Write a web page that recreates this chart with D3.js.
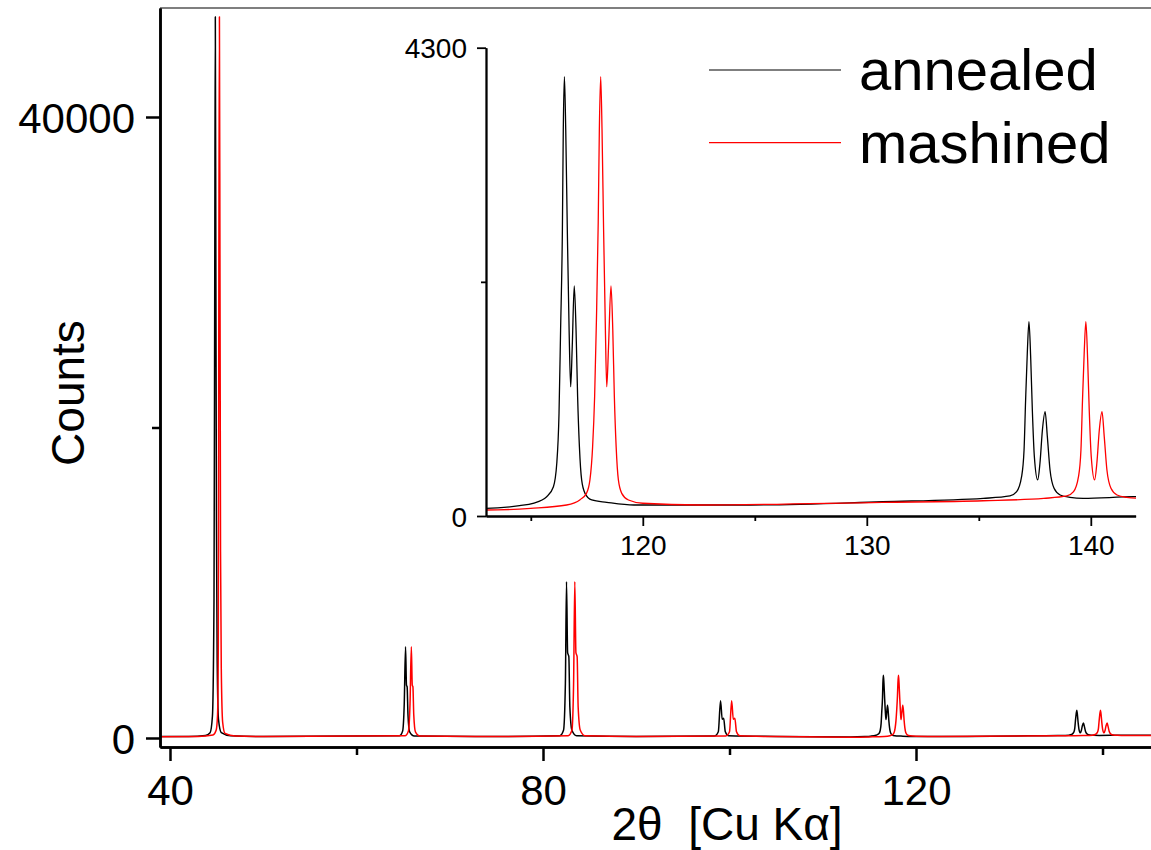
<!DOCTYPE html>
<html>
<head>
<meta charset="utf-8">
<script src="https://cdn.jsdelivr.net/npm/d3@7"></script>
<style>
  html, body { margin: 0; padding: 0; background: #fff; }
  svg { display: block; }
  text { font-family: "Liberation Sans", Arial, sans-serif; fill: #000; }
</style>
</head>
<body>
<svg id="chart" width="1151" height="850"></svg>
<script>
// ---------------- DATA ----------------
const seriesNames = ["annealed", "mashined"];
const seriesColors = ["#000000", "#ff0000"];

// [2θ (deg), counts]
const annealed = [
  [38.9, 90], [42, 100], [43.8, 160], [44.3, 340], [44.55, 1400], [44.72, 9000], [44.8, 30000],
  [44.86, 46450], [44.92, 30000], [44.98, 14000], [45.06, 5000], [45.2, 1200], [45.5, 350],
  [46.5, 150], [50, 100],
  [64.6, 140], [64.95, 450], [65.12, 2200], [65.26, 5881], [65.36, 3400], [65.43, 3300],
  [65.52, 1500], [65.7, 400], [66.2, 130], [75, 100],
  [81.8, 150], [82.2, 500], [82.4, 3500], [82.52, 10070], [82.64, 5500], [82.77, 5238],
  [82.88, 2000], [83.1, 500], [83.6, 150], [90, 100],
  [98.4, 130], [98.8, 400], [99.04, 2403], [99.22, 1200], [99.37, 1267], [99.55, 400],
  [99.9, 140], [105, 100],
  [113, 70], [114.5, 95], [115.1, 117], [115.71, 177], [116.01, 269], [116.16, 484],
  [116.26, 943], [116.33, 1708], [116.41, 2626], [116.45, 3544], [116.5, 4034], [116.56, 3544],
  [116.63, 2626], [116.71, 1708], [116.78, 1187], [116.85, 1555], [116.94, 2112], [117.02, 1708],
  [117.09, 1096], [117.17, 637], [117.27, 331], [117.42, 208], [117.72, 147], [118.39, 126],
  [119.6, 101], [122.5, 101], [124.8, 101], [130.7, 131], [135.2, 162], [136.39, 184],
  [136.69, 223], [136.91, 361], [137.02, 606], [137.09, 1065], [137.17, 1524], [137.24, 1784],
  [137.32, 1432], [137.39, 973], [137.48, 545], [137.63, 331], [137.73, 484], [137.84, 790],
  [137.96, 958], [138.06, 729], [138.18, 422], [138.36, 254], [138.63, 193], [139.07, 171],
  [139.66, 162], [141.9, 177], [146, 180]
];

const mashined = [
  [38.9, 80], [43, 100], [44.6, 200], [44.95, 500], [45.1, 1500], [45.18, 6000], [45.24, 30000],
  [45.3, 46450], [45.36, 30000], [45.42, 12000], [45.5, 4500], [45.65, 1000], [45.9, 300],
  [47, 130], [50, 100],
  [65.2, 140], [65.57, 450], [65.74, 2200], [65.88, 5881], [65.98, 3400], [66.05, 3300],
  [66.14, 1500], [66.32, 400], [66.8, 130], [75, 100],
  [82.7, 150], [83.1, 500], [83.28, 3500], [83.41, 10070], [83.53, 5500], [83.66, 5238],
  [83.77, 2000], [84.0, 500], [84.5, 150], [90, 100],
  [99.6, 130], [100.0, 400], [100.23, 2403], [100.41, 1200], [100.57, 1267], [100.75, 400],
  [101.1, 140], [105, 90],
  [113, 55], [115.0, 70], [116.6, 101], [117.2, 150], [117.49, 210], [117.64, 331],
  [117.76, 637], [117.85, 1100], [117.93, 1800], [118.01, 2700], [118.06, 3544], [118.12, 4034],
  [118.18, 3544], [118.25, 2626], [118.33, 1708], [118.39, 1187], [118.47, 1555], [118.58, 2112],
  [118.66, 1708], [118.73, 1096], [118.81, 637], [118.91, 331], [119.06, 208], [119.36, 147],
  [120.0, 117], [122.55, 101], [130.7, 125], [135.2, 140], [137.9, 162], [138.93, 184],
  [139.23, 223], [139.45, 361], [139.56, 606], [139.63, 1065], [139.71, 1524], [139.78, 1784],
  [139.86, 1432], [139.93, 973], [140.02, 545], [140.17, 331], [140.27, 484], [140.38, 790],
  [140.5, 958], [140.6, 729], [140.72, 422], [140.9, 254], [141.17, 193], [141.6, 171],
  [142.0, 165], [146, 170]
];

const mainXMajorTicks = [40, 80, 120];
const mainXMinorTicks = [60, 100, 140];
const mainYMajorTicks = [0, 40000];
const mainYMinorTicks = [20000];

const insetXMajorTicks = [120, 130, 140];
const insetXMinorTicks = [115, 125, 135];
const insetYMajorTicks = [0, 4300];
const insetYMinorTicks = [2150];

const xTitle = "2θ  [Cu Kα]";
const yTitle = "Counts";

// ---------------- CHART ----------------
const svg = d3.select("#chart");
const series = [annealed, mashined];

// main plot
const mx = d3.scaleLinear().domain([38.928, 145.2]).range([160, 1151]);
const my = d3.scaleLinear().domain([-580, 47021]).range([747, 8]);

const defs = svg.append("defs");
defs.append("clipPath").attr("id", "mainClip").append("rect")
  .attr("x", 160).attr("y", 8).attr("width", 991).attr("height", 739);

const mainLine = d3.line().x(d => mx(d[0])).y(d => my(d[1])).curve(d3.curveMonotoneX);
const mg = svg.append("g").attr("clip-path", "url(#mainClip)");
series.forEach((s, i) => {
  mg.append("path").datum(s).attr("d", mainLine)
    .attr("fill", "none").attr("stroke", seriesColors[i])
    .attr("stroke-width", 1.5).attr("stroke-linejoin", "round");
});

// top frame line
svg.append("line").attr("x1", 160).attr("x2", 1151).attr("y1", 8).attr("y2", 8)
  .attr("stroke", "#555").attr("stroke-width", 1.5);

function styleAxis(g, w) {
  g.select(".domain").attr("stroke", "#000").attr("stroke-width", w);
  g.selectAll(".tick line").attr("stroke", "#000").attr("stroke-width", w);
}

// main x axis
const gxMinor = svg.append("g").attr("transform", "translate(0,747)")
  .call(d3.axisBottom(mx).tickValues(mainXMinorTicks).tickSize(8).tickSizeOuter(0).tickFormat(""));
styleAxis(gxMinor, 2.5);
const gx = svg.append("g").attr("transform", "translate(0,747)")
  .call(d3.axisBottom(mx).tickValues(mainXMajorTicks).tickSize(14).tickSizeOuter(0).tickFormat(d3.format("d")));
styleAxis(gx, 2.5);
gx.selectAll(".tick text").attr("font-size", 42).attr("dy", 0).attr("y", 805 - 747);

// main y axis
const gyMinor = svg.append("g").attr("transform", "translate(160,0)")
  .call(d3.axisLeft(my).tickValues(mainYMinorTicks).tickSize(8).tickSizeOuter(0).tickFormat(""));
styleAxis(gyMinor, 2.5);
const gy = svg.append("g").attr("transform", "translate(160,0)")
  .call(d3.axisLeft(my).tickValues(mainYMajorTicks).tickSize(14).tickSizeOuter(0).tickPadding(11).tickFormat(d3.format("d")));
styleAxis(gy, 2.5);
gy.selectAll(".tick text").attr("font-size", 42).attr("dy", "0.36em");

// axis titles
svg.append("text").attr("x", 727).attr("y", 840).attr("text-anchor", "middle")
  .attr("font-size", 46).style("white-space", "pre").attr("xml:space", "preserve").text(xTitle);
svg.append("text").attr("transform", "translate(84,393) rotate(-90)")
  .attr("text-anchor", "middle").attr("font-size", 46).text(yTitle);

// ---------------- INSET ----------------
const ix = d3.scaleLinear().domain([113, 142]).range([486, 1135.6]);
const iy = d3.scaleLinear().domain([0, 4300]).range([516, 47.7]);

defs.append("clipPath").attr("id", "insetClip").append("rect")
  .attr("x", 486).attr("y", 40).attr("width", 650).attr("height", 476);

const insetLine = d3.line().x(d => ix(d[0])).y(d => iy(d[1])).curve(d3.curveMonotoneX);
const ig = svg.append("g").attr("clip-path", "url(#insetClip)");
series.forEach((s, i) => {
  ig.append("path").datum(s).attr("d", insetLine)
    .attr("fill", "none").attr("stroke", seriesColors[i])
    .attr("stroke-width", 1.3).attr("stroke-linejoin", "round");
});

const ixMinor = svg.append("g").attr("transform", "translate(0,516)")
  .call(d3.axisBottom(ix).tickValues(insetXMinorTicks).tickSize(5).tickSizeOuter(0).tickFormat(""));
styleAxis(ixMinor, 1.8);
const ixg = svg.append("g").attr("transform", "translate(0,516)")
  .call(d3.axisBottom(ix).tickValues(insetXMajorTicks).tickSize(10).tickSizeOuter(0).tickFormat(d3.format("d")));
styleAxis(ixg, 1.8);
ixg.selectAll(".tick text").attr("font-size", 28).attr("dy", 0).attr("y", 555 - 516);

const iyMinor = svg.append("g").attr("transform", "translate(486,0)")
  .call(d3.axisLeft(iy).tickValues(insetYMinorTicks).tickSize(5).tickSizeOuter(0).tickFormat(""));
styleAxis(iyMinor, 1.8);
const iyg = svg.append("g").attr("transform", "translate(486,0)")
  .call(d3.axisLeft(iy).tickValues(insetYMajorTicks).tickSize(9).tickSizeOuter(0).tickPadding(10).tickFormat(d3.format("d")));
styleAxis(iyg, 1.8);
iyg.selectAll(".tick text").attr("font-size", 28).attr("dy", "0.36em");

// legend
const legY = [70, 142.7];
seriesNames.forEach((name, i) => {
  svg.append("line").attr("x1", 709).attr("x2", 841).attr("y1", legY[i]).attr("y2", legY[i])
    .attr("stroke", seriesColors[i]).attr("stroke-width", 1.2);
  svg.append("text").attr("x", 859).attr("y", legY[i] + 20).attr("font-size", 58).text(name);
});
</script>
</body>
</html>
